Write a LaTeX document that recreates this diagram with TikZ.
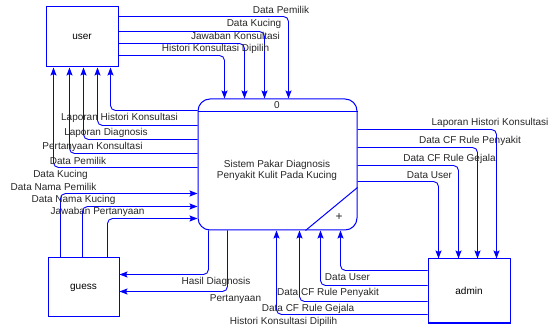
\documentclass[tikz,border=0pt]{standalone}
\usepackage{fontspec}
\setmainfont{Liberation Sans}
\usepackage{tikz}
\usetikzlibrary{arrows.meta,calc}

\begin{document}
\begin{tikzpicture}[
  x=1pt, y=-1pt,
  ent/.style={draw=blue, line width=1pt, inner sep=0pt, font=\fontsize{10}{11}\selectfont},
  proc/.style={draw=blue, line width=1pt, rounded corners=12pt, inner sep=0pt, minimum width=159pt, minimum height=131pt},
  lbl/.style={inner sep=0pt, font=\fontsize{10}{11}\selectfont, text=black!85},
  flow/.style={-{Stealth[length=8pt,width=6pt,inset=1.5pt]}, draw=blue, line width=0.9pt, rounded corners=5pt}
]
\useasboundingbox (0,0) rectangle (551,328);

\node[ent, minimum width=72pt, minimum height=60pt] (user) at (82,37) {user};
\node[ent, minimum width=71pt, minimum height=59pt] (guess) at (83.5,287.5) {guess};
\node[ent, minimum width=82pt, minimum height=64pt] (admin) at (469,291) {admin};
\node[proc] (sys) at (277.5,164.5) {};

% process box details
\draw[blue, line width=1pt] ($(sys.north west)+(0,13)$) -- ($(sys.north east)+(0,13)$);
\draw[blue, line width=1pt] ($(sys.north east)+(0,89)$) -- ($(sys.south west)+(108,0)$);
\node[lbl] (sysno) at (277,105) {0};
\node[lbl, align=center] (systxt) at (277,170.5) {Sistem Pakar Diagnosis\\Penyakit Kulit Pada Kucing};
\node[lbl, font=\fontsize{12}{12}\selectfont] (sysplus) at (339,217) {+};

% user -> sistem
\draw[flow] ($(user.north east)+(0,10)$) -| ($(sys.north west)+(91,0)$);
\draw[flow] ($(user.north east)+(0,25)$) -| ($(sys.north west)+(67,0)$);
\draw[flow] ($(user.north east)+(0,37)$) -| ($(sys.north west)+(47,0)$);
\draw[flow] ($(user.north east)+(0,49)$) -| ($(sys.north west)+(27,0)$);
\node[lbl] (t1) at (281,10) {Data Pemilik};
\node[lbl] (t2) at (254,24) {Data Kucing};
\node[lbl] (t3) at (235.5,36) {Jawaban Konsultasi};
\node[lbl] (t4) at (215.5,49) {Histori Konsultasi Dipilih};

% sistem -> user
\draw[flow] ($(sys.north west)+(0,12)$) -| ($(user.south west)+(65,0)$);
\draw[flow] ($(sys.north west)+(0,27)$) -| ($(user.south west)+(52,0)$);
\draw[flow] ($(sys.north west)+(0,41)$) -| ($(user.south west)+(38,0)$);
\draw[flow] ($(sys.north west)+(0,55)$) -| ($(user.south west)+(24,0)$);
\draw[flow] ($(sys.north west)+(0,69)$) -| ($(user.south west)+(8,0)$);
\node[lbl] (l1) at (119.5,118) {Laporan Histori Konsultasi};
\node[lbl] (l2) at (106,133) {Laporan Diagnosis};
\node[lbl] (l3) at (92.5,147) {Pertanyaan Konsultasi};
\node[lbl] (l4) at (78,161) {Data Pemilik};
\node[lbl] (l5) at (60.5,175) {Data Kucing};

% guess -> sistem
\draw[flow] ($(guess.north west)+(13,0)$) |- ($(sys.north west)+(0,95)$);
\draw[flow] ($(guess.north west)+(35,0)$) |- ($(sys.north west)+(0,108)$);
\draw[flow] ($(guess.north west)+(60,0)$) |- ($(sys.north west)+(0,120)$);
\node[lbl] (g1) at (53.5,187) {Data Nama Pemilik};
\node[lbl] (g2) at (73.5,200) {Data Nama Kucing};
\node[lbl] (g3) at (97.5,212) {Jawaban Pertanyaan};

% sistem -> guess
\draw[flow] ($(sys.south west)+(11,0)$) |- ($(guess.north east)+(0,17)$);
\draw[flow] ($(sys.south west)+(30,0)$) |- ($(guess.north east)+(0,34)$);
\node[lbl] (h1) at (216,282) {Hasil Diagnosis};
\node[lbl] (h2) at (235.5,299) {Pertanyaan};

% admin -> sistem
\draw[flow] ($(admin.north west)+(0,12)$) -| ($(sys.south west)+(143,0)$);
\draw[flow] ($(admin.north west)+(0,27)$) -| ($(sys.south west)+(123,0)$);
\draw[flow] ($(admin.north west)+(0,43)$) -| ($(sys.south west)+(102,0)$);
\draw[flow] ($(admin.north west)+(0,56)$) -| ($(sys.south west)+(79,0)$);
\node[lbl] (b1) at (347.5,277) {Data User};
\node[lbl] (b2) at (328,293) {Data CF Rule Penyakit};
\node[lbl] (b3) at (308,309) {Data CF Rule Gejala};
\node[lbl] (b4) at (283.5,322) {Histori Konsultasi Dipilih};

% sistem -> admin
\draw[flow] ($(sys.north east)+(0,31)$) -| ($(admin.north west)+(69,0)$);
\draw[flow] ($(sys.north east)+(0,49)$) -| ($(admin.north west)+(50,0)$);
\draw[flow] ($(sys.north east)+(0,67)$) -| ($(admin.north west)+(31,0)$);
\draw[flow] ($(sys.north east)+(0,83)$) -| ($(admin.north west)+(11,0)$);
\node[lbl] (r1) at (490,123) {Laporan Histori Konsultasi};
\node[lbl] (r2) at (470,141) {Data CF Rule Penyakit};
\node[lbl] (r3) at (449.5,159) {Data CF Rule Gejala};
\node[lbl] (r4) at (429.5,175) {Data User};
\end{tikzpicture}
\end{document}
